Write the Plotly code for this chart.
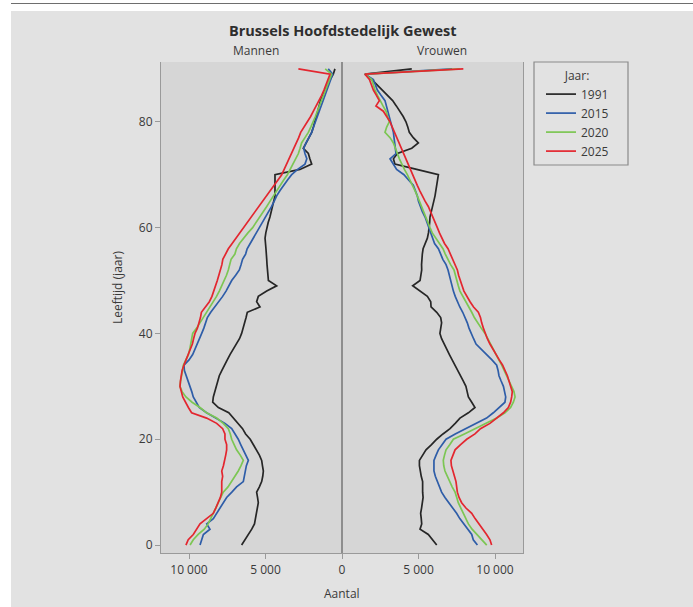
import plotly.graph_objects as go

ages = list(range(0, 91))
years = ["1991", "2015", "2020", "2025"]
colors = ["#262626", "#2e5da8", "#7cc653", "#e3262f"]

men_1991 = [6560, 6340, 6100, 5900, 5720, 5650, 5580, 5500, 5470, 5520,
            5580, 5400, 5250, 5180, 5140, 5200, 5250, 5400, 5580, 5800,
            6000, 6300, 6500, 6800, 7100, 7400, 8080, 8450, 8410, 8320,
            8230, 8120, 8020, 7850, 7650, 7500, 7320, 7100, 6930, 6700,
            6560, 6450, 6340, 6270, 6190, 5360, 5580, 5470, 4920, 4270,
            4810, 4850, 4880, 4900, 4920, 4930, 4970, 5000, 5030, 4980,
            4920, 4820, 4710, 4620, 4530, 4450, 4380, 4380, 4380, 4350,
            4380, 2750, 1980, 2100, 2200, 2530, 2350, 2150, 1980, 1870,
            1770, 1690, 1610, 1500, 1400, 1250, 1110, 950, 780, 570, 460]
men_2015 = [9280, 9150, 9060, 8630, 8840, 8410, 8200, 7970, 7750, 7540,
            7200, 6890, 6450, 6400, 6340, 6250, 6120, 6300, 6450, 6620,
            6780, 6990, 7210, 7650, 8300, 8850, 9330, 9500, 9720, 9820,
            9940, 10050, 10150, 10300, 10330, 10000, 9760, 9600, 9460, 9300,
            9170, 9030, 8890, 8800, 8580, 8300, 8020, 7800, 7580, 7400,
            7210, 6950, 6710, 6600, 6500, 6300, 6200, 6000, 5800, 5580,
            5360, 5150, 4970, 4780, 4600, 4430, 4270, 4050, 3830, 3560,
            3290, 2900, 2420, 2300, 2420, 2500, 2350, 2150, 1980, 1860,
            1740, 1610, 1480, 1350, 1220, 1110, 1000, 870, 740, 610, 900]
men_2020 = [9930, 9720, 9400, 9000, 8750, 8600, 8400, 8250, 8090, 7900,
            7760, 7450, 7210, 6990, 6780, 6600, 6450, 6650, 6890, 7050,
            7210, 7300, 7430, 7760, 8190, 8850, 9280, 9800, 10200, 10450,
            10590, 10550, 10460, 10420, 10370, 10200, 10040, 9950, 9890, 9840,
            9760, 9500, 9280, 9050, 8850, 8600, 8370, 8200, 8020, 7850,
            7690, 7550, 7430, 7350, 7250, 7000, 6900, 6700, 6450, 6150,
            5840, 5600, 5360, 5140, 4920, 4700, 4490, 4270, 4050, 3810,
            3570, 3380, 3180, 3020, 2850, 2740, 2640, 2420, 2200, 2040,
            1870, 1740, 1610, 1470, 1330, 1190, 1050, 920, 780, 680, 1100]
men_2025 = [10200, 10050, 9720, 9500, 9280, 8850, 8410, 8250, 8090, 7950,
            7860, 7860, 7860, 7800, 7860, 7750, 7650, 7600, 7540, 7540,
            7650, 7650, 7800, 8190, 8850, 9830, 10040, 10250, 10410, 10500,
            10590, 10560, 10520, 10450, 10330, 10180, 10040, 9900, 9780, 9700,
            9610, 9450, 9330, 9250, 9190, 8900, 8670, 8500, 8370, 8250,
            8150, 8050, 7930, 7850, 7790, 7600, 7430, 7180, 6930, 6700,
            6450, 6200, 5970, 5720, 5470, 5220, 4970, 4700, 4440, 4200,
            3940, 3780, 3620, 3450, 3290, 3130, 2960, 2830, 2700, 2480,
            2240, 2050, 1870, 1680, 1480, 1330, 1180, 1050, 940, 780, 2850]

women_1991 = [6190, 5930, 5640, 5100, 5210, 5180, 5140, 5200, 5270, 5300,
              5270, 5250, 5270, 5180, 5100, 5060, 5060, 5250, 5490, 5850,
              6190, 6600, 7060, 7400, 7710, 8260, 8690, 8480, 8260, 8180,
              8100, 7930, 7760, 7570, 7390, 7200, 7020, 6850, 6670, 6510,
              6400, 6450, 6510, 6450, 6190, 5820, 5800, 5580, 5100, 4620,
              5100, 5150, 5210, 5200, 5210, 5250, 5300, 5450, 5580, 5650,
              5710, 5730, 5750, 5850, 5930, 6000, 6080, 6130, 6190, 6250,
              6300, 4880, 3460, 3360, 3620, 4560, 4990, 4660, 4400, 4300,
              4180, 4000, 3790, 3550, 3310, 2950, 2590, 2250, 1940, 1500, 4560]
women_2015 = [8850, 8580, 8480, 8200, 7930, 7700, 7490, 7220, 6950, 6730,
              6510, 6370, 6230, 6100, 6010, 6000, 6010, 6150, 6300, 6550,
              6800, 7400, 8100, 8800, 9450, 9890, 10280, 10650, 10700, 10620,
              10550, 10400, 10260, 10200, 10110, 9800, 9460, 9100, 8760, 8600,
              8430, 8300, 8190, 8050, 7890, 7700, 7540, 7400, 7280, 7200,
              7100, 7000, 6930, 6800, 6590, 6450, 6300, 6050, 5930, 5800,
              5710, 5550, 5430, 5250, 5100, 5000, 4920, 4800, 4660, 4350,
              4050, 3570, 3360, 3140, 3530, 3500, 3460, 3400, 3360, 3270,
              3180, 3100, 3030, 2900, 2810, 2550, 2310, 2180, 2050, 1500, 7200]
women_2020 = [9460, 9130, 8800, 8500, 8260, 8100, 7930, 7750, 7600, 7500,
              7390, 7200, 7060, 6900, 6730, 6650, 6620, 6700, 6800, 7050,
              7280, 8000, 8700, 9450, 10110, 10650, 11020, 11200, 11310, 11240,
              11090, 10920, 10760, 10600, 10440, 10250, 10070, 9900, 9720, 9530,
              9350, 9100, 8850, 8650, 8480, 8280, 8080, 7900, 7710, 7600,
              7490, 7400, 7320, 7100, 6900, 6750, 6600, 6350, 6100, 5900,
              5750, 5620, 5490, 5360, 5230, 5080, 4920, 4770, 4620, 4450,
              4270, 4080, 3900, 3750, 3620, 3480, 3360, 3140, 2810, 2920,
              3090, 2980, 2880, 2680, 2480, 2320, 2160, 2050, 1940, 1500, 7700]
women_2025 = [9780, 9670, 9450, 9200, 8910, 8700, 8480, 8100, 7820, 7650,
              7540, 7500, 7450, 7350, 7230, 7150, 7120, 7250, 7390, 7750,
              8150, 8690, 9050, 9670, 10110, 10550, 10870, 11020, 11090, 11130,
              11020, 10920, 10810, 10650, 10500, 10280, 10070, 9870, 9670, 9500,
              9350, 9240, 9130, 9050, 8910, 8600, 8370, 8150, 7970, 7850,
              7710, 7620, 7540, 7380, 7220, 7080, 6930, 6700, 6510, 6370,
              6230, 6080, 5930, 5780, 5640, 5430, 5230, 5080, 4920, 4770,
              4620, 4480, 4340, 4200, 4050, 3900, 3750, 3570, 3400, 3270,
              3140, 2920, 2700, 2220, 2440, 2250, 2050, 1920, 1790, 1500, 7930]

men = [men_1991, men_2015, men_2020, men_2025]
women = [women_1991, women_2015, women_2020, women_2025]

x_tickvals = [-10000, -5000, 0, 5000, 10000]
x_ticktext = ["10 000", "5 000", "0", "5 000", "10 000"]
y_tickvals = [0, 20, 40, 60, 80]

FONT = "Open Sans"
TXT = "#3a3a3a"
FS = 12

fig = go.Figure()
for yr, col, m, w in zip(years, colors, men, women):
    fig.add_trace(go.Scatter(x=[-v for v in m], y=ages, mode="lines",
                             line=dict(color=col, width=1.7), name=yr,
                             legendgroup=yr, showlegend=True))
    fig.add_trace(go.Scatter(x=w, y=ages, mode="lines",
                             line=dict(color=col, width=1.7), name=yr,
                             legendgroup=yr, showlegend=False))

# pixel -> paper helpers (plot area: x 161..523, y 62..553)
def px(x):
    return (x - 161) / 362.0

def py(y):
    return (553 - y) / 491.0

shapes = [
    dict(type="rect", xref="paper", yref="paper", x0=px(11), x1=px(693),
         y0=py(607), y1=py(11), fillcolor="#e2e2e2", line=dict(width=0), layer="below"),
    dict(type="rect", xref="paper", yref="paper", x0=0, x1=1, y0=0, y1=1,
         fillcolor="#d6d6d6", line=dict(width=0), layer="below"),
    dict(type="line", xref="paper", yref="paper", x0=px(11), x1=px(693),
         y0=py(3.5), y1=py(3.5), line=dict(color="#6e6e6e", width=1.2)),
    dict(type="rect", xref="paper", yref="paper", x0=px(534), x1=px(628),
         y0=py(165), y1=py(62), line=dict(color="#8a8a8a", width=1.2),
         fillcolor="rgba(0,0,0,0)"),
]

annotations = [
    dict(text="<b>Brussels Hoofdstedelijk Gewest</b>", xref="paper", yref="paper",
         x=px(342), y=py(30), showarrow=False, font=dict(family=FONT, size=14.5, color="#2e2e2e"),
         xanchor="center", yanchor="middle"),
    dict(text="Mannen", xref="paper", yref="paper", x=px(256), y=py(51), showarrow=False,
         font=dict(family=FONT, size=FS, color=TXT), xanchor="center", yanchor="middle"),
    dict(text="Vrouwen", xref="paper", yref="paper", x=px(442), y=py(51), showarrow=False,
         font=dict(family=FONT, size=FS, color=TXT), xanchor="center", yanchor="middle"),
    dict(text="Leeftijd (jaar)", xref="paper", yref="paper", x=px(117), y=py(288),
         showarrow=False, textangle=-90, font=dict(family=FONT, size=FS, color=TXT),
         xanchor="center", yanchor="middle"),
    dict(text="Aantal", xref="paper", yref="paper", x=px(342), y=py(593), showarrow=False,
         font=dict(family=FONT, size=FS, color=TXT), xanchor="center", yanchor="middle"),
]

fig.update_layout(
    width=693, height=607,
    margin=dict(l=161, r=170, t=62, b=54, pad=0),
    paper_bgcolor="white", plot_bgcolor="rgba(0,0,0,0)",
    font=dict(family=FONT, size=FS, color=TXT),
    shapes=shapes, annotations=annotations,
    showlegend=True,
    legend=dict(
        title=dict(text="Jaar:", side="top center", font=dict(family=FONT, size=FS, color=TXT)),
        x=px(541), y=py(64), xanchor="left", yanchor="top",
        bgcolor="rgba(0,0,0,0)", borderwidth=0, tracegroupgap=0,
        font=dict(family=FONT, size=FS, color=TXT), itemwidth=30,
    ),
    xaxis=dict(range=[-11830, 11830], tickvals=x_tickvals, ticktext=x_ticktext,
               showgrid=False, zeroline=True, zerolinecolor="#8e8e8e", zerolinewidth=1.5,
               showline=True, linecolor="#9a9a9a", linewidth=1.2,
               ticks="outside", ticklen=5, tickcolor="#9a9a9a",
               tickfont=dict(family=FONT, size=FS, color=TXT), fixedrange=True),
    yaxis=dict(range=[-1.5, 91.3], tickvals=y_tickvals,
               showgrid=False, zeroline=False,
               showline=True, linecolor="#9a9a9a", linewidth=1.2, mirror=True,
               ticks="outside", ticklen=5, tickcolor="#9a9a9a",
               tickfont=dict(family=FONT, size=FS, color=TXT), fixedrange=True),
)

fig.write_html("out.html", config={"displayModeBar": False},
               post_script="document.body.style.margin='0';document.body.style.overflow='hidden';")
